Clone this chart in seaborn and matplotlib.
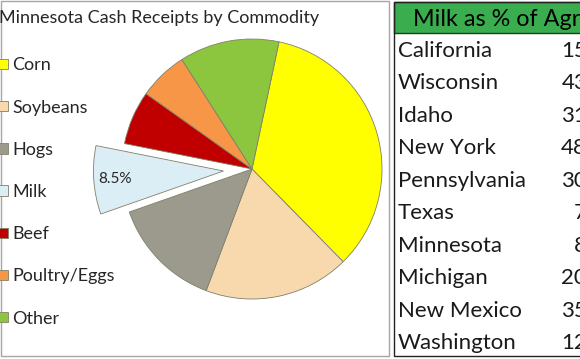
import matplotlib
matplotlib.use("Agg")
import matplotlib.pyplot as plt
from matplotlib.patches import Rectangle, Shadow
import seaborn as sns

# Pie data (share of Minnesota cash receipts, %)
commodities = ["Corn", "Soybeans", "Hogs", "Milk", "Beef", "Poultry/Eggs", "Other"]
shares = [34.3, 18.1, 13.9, 8.5, 6.7, 6.1, 12.4]
slice_colors = ["#FFFF00", "#F8D9AE", "#9B9A8C", "#DCEEF5", "#C00000", "#F79646", "#8CC63F"]

# Table data
states = ["California", "Wisconsin", "Idaho", "New York", "Pennsylvania",
          "Texas", "Minnesota", "Michigan", "New Mexico", "Washington"]
milk_pct = [15, 43, 31, 48, 30, 7, 8, 20, 35, 12]

sns.set_style("white")
plt.rcParams["font.family"] = ["Lato", "DejaVu Sans"]

W, H = 580, 359
fig = plt.figure(figsize=(W / 100, H / 100), dpi=100)

# background axes in pixel coordinates for frames and table
bg = fig.add_axes([0, 0, 1, 1])
bg.set_xlim(0, W)
bg.set_ylim(H, 0)
bg.axis("off")

bg.add_patch(Rectangle((0.5, 1), 388.5, 354.5, fill=False, ec="#a6a6a6", lw=1))
bg.text(-1, 23, "Minnesota Cash Receipts by Commodity", fontsize=13,
        color="#262626", va="baseline", ha="left")

# table on the right
bg.add_patch(Rectangle((394, 1.5), 200, 31.5, fc="#3AAE4F", ec="#1f3d1f", lw=1))
bg.add_patch(Rectangle((394, 1.5), 200, 354.5, fill=False, ec="#222222", lw=1))
bg.text(413, 26, "Milk as % of Agriculture", fontsize=16.8, color="black", va="baseline")
for i, (st, v) in enumerate(zip(states, milk_pct)):
    yb = 57 + 32.44 * i
    bg.text(398, yb, st, fontsize=16, color="#1a1a1a", va="baseline")
    bg.text(605, yb, f"{v}%", fontsize=16, color="#1a1a1a", va="baseline", ha="right")

# pie axes: centre at (252,169) px, radius 130 px
cx, cy, half = 252, 169, 170
ax = fig.add_axes([(cx - half) / W, (H - cy - half) / H, 2 * half / W, 2 * half / H])
explode = [0.22 if c == "Milk" else 0 for c in commodities]
wedges, texts, autotexts = ax.pie(
    shares, colors=slice_colors, startangle=78, counterclock=False,
    explode=explode, radius=1,
    autopct=lambda p: f"{p:.1f}%" if abs(p - 8.5) < 0.05 else "",
    pctdistance=0.84,
    wedgeprops=dict(edgecolor="#80806a", linewidth=0.6),
    textprops=dict(fontsize=11, color="#262626"),
)
milk = wedges[commodities.index("Milk")]
sh = Shadow(milk, 2.5, -2.5, fc="#9a9a9a", alpha=0.55)
sh.set_zorder(milk.get_zorder() - 0.5)
ax.add_patch(sh)
lim = half / 130
ax.set_xlim(-lim, lim)
ax.set_ylim(-lim, lim)

fig.legend(wedges, commodities, loc="upper left", bbox_to_anchor=(-0.015, 0.86),
           frameon=False, fontsize=13, labelspacing=1.45, handlelength=0.5,
           handleheight=0.5, handletextpad=0.25, borderaxespad=0,
           labelcolor="#262626")

fig.savefig("out.png", dpi=100)
